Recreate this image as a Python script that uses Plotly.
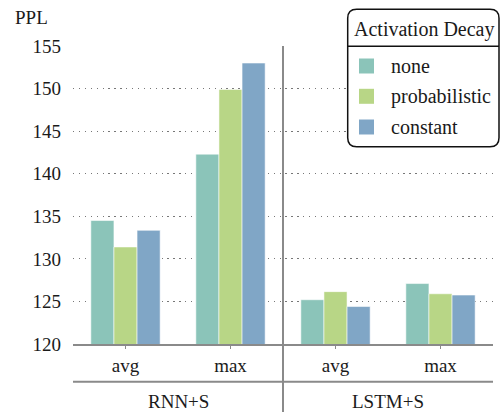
import plotly.graph_objects as go

# ---- data ----
groups = ["RNN+S", "RNN+S", "LSTM+S", "LSTM+S"]
poolings = ["avg", "max", "avg", "max"]
series_names = ["none", "probabilistic", "constant"]
ppl_none = [134.5, 142.3, 125.2, 127.1]
ppl_probabilistic = [131.4, 149.9, 126.15, 125.9]
ppl_constant = [133.35, 153.0, 124.4, 125.75]
y_ticks = [120, 125, 130, 135, 140, 145, 150, 155]
legend_title = "Activation Decay"

colors = ["#8bc4b9", "#b8d686", "#80a6c6"]
FONT = "Liberation Serif"
TXT = "#1a1a1a"
GRAY = "#8a8a8a"

W, H = 500, 412
L, R, T, B = 73, 7, 46, 68
PW, PH = W - L - R, H - T - B


def px(xp):
    return (xp - L) / PW


def py(yp):
    return (H - B - yp) / PH


def txt(size=19):
    return dict(family=FONT, size=size, color=TXT)


xpos = list(range(len(poolings)))
fig = go.Figure()
for name, vals, c in zip(series_names, [ppl_none, ppl_probabilistic, ppl_constant], colors):
    fig.add_trace(go.Bar(
        x=xpos, y=vals, name=name,
        marker=dict(color=c, line=dict(color="rgba(255,255,255,0.55)", width=1)),
        showlegend=False,
    ))

shapes = []
annotations = []

# vertical separator between groups
sep_x = (xpos[1] + xpos[2]) / 2
shapes.append(dict(type="line", xref="x", yref="paper", x0=sep_x, x1=sep_x, y0=1, y1=py(H + 2),
                   line=dict(color=GRAY, width=2), layer="above"))
# horizontal line under tick labels
shapes.append(dict(type="line", xref="paper", yref="paper", x0=0, x1=1, y0=py(381.7), y1=py(381.7),
                   line=dict(color=GRAY, width=2), layer="above"))

# group labels
uniq = []
for g in groups:
    if g not in uniq:
        uniq.append(g)
for g in uniq:
    idx = [i for i, gg in enumerate(groups) if gg == g]
    cx = sum(xpos[i] for i in idx) / len(idx)
    annotations.append(dict(x=cx, y=py(401.5), xref="x", yref="paper", text=g, showarrow=False,
                            font=txt(19), xanchor="center", yanchor="middle"))

# y-axis label
annotations.append(dict(x=px(31), y=py(17), xref="paper", yref="paper", text="PPL", showarrow=False,
                        font=txt(19), xanchor="center", yanchor="middle"))

# custom legend box (rounded)
lx0, lx1, ly0, ly1, r = 347.7, 499.0, 9.3, 146.7, 9
path = (f"M {px(lx0 + r)},{py(ly0)} L {px(lx1 - r)},{py(ly0)} "
        f"Q {px(lx1)},{py(ly0)} {px(lx1)},{py(ly0 + r)} "
        f"L {px(lx1)},{py(ly1 - r)} Q {px(lx1)},{py(ly1)} {px(lx1 - r)},{py(ly1)} "
        f"L {px(lx0 + r)},{py(ly1)} Q {px(lx0)},{py(ly1)} {px(lx0)},{py(ly1 - r)} "
        f"L {px(lx0)},{py(ly0 + r)} Q {px(lx0)},{py(ly0)} {px(lx0 + r)},{py(ly0)} Z")
shapes.append(dict(type="path", xref="paper", yref="paper", path=path, fillcolor="white",
                   line=dict(color="#111111", width=1.5), layer="above"))
shapes.append(dict(type="line", xref="paper", yref="paper", x0=px(lx0), x1=px(lx1), y0=py(46.3), y1=py(46.3),
                   line=dict(color="#111111", width=1.5), layer="above"))
annotations.append(dict(x=px((lx0 + lx1) / 2 + 1), y=py(29), xref="paper", yref="paper", text=legend_title,
                        showarrow=False, font=txt(20), xanchor="center", yanchor="middle"))
item_y = [66, 96.3, 127]
for name, c, yy in zip(series_names, colors, item_y):
    shapes.append(dict(type="rect", xref="paper", yref="paper", x0=px(359), x1=px(374),
                       y0=py(yy - 7.5), y1=py(yy + 7.5), fillcolor=c, line=dict(width=0), layer="above"))
    annotations.append(dict(x=px(389), y=py(yy), xref="paper", yref="paper", text=name, showarrow=False,
                            font=txt(20), xanchor="left", yanchor="middle"))

fig.update_layout(
    width=W, height=H,
    margin=dict(l=L, r=R, t=T, b=B, pad=0),
    paper_bgcolor="white", plot_bgcolor="white",
    barmode="group", bargap=0.34, bargroupgap=0,
    shapes=shapes, annotations=annotations,
    xaxis=dict(range=[-0.5, len(poolings) - 0.5], tickmode="array", tickvals=xpos, ticktext=poolings,
               showgrid=False, zeroline=False, showline=True, linecolor=GRAY, linewidth=2,
               ticks="outside", ticklen=3, tickcolor=GRAY, tickwidth=1,
               tickfont=txt(19)),
    yaxis=dict(range=[y_ticks[0], y_ticks[-1]], tickmode="array", tickvals=y_ticks,
               showgrid=True, gridcolor="#777777", gridwidth=1.3, griddash="1.3px,4.6px",
               zeroline=False, showline=False, ticks="", ticklabelstandoff=11,
               tickfont=txt(19)),
)

post = ("document.body.style.margin='0';"
        "var s=document.createElement('style');"
        "s.innerHTML='.modebar-container{display:none !important;}';"
        "document.head.appendChild(s);")
fig.write_html("out.html", post_script=post)
